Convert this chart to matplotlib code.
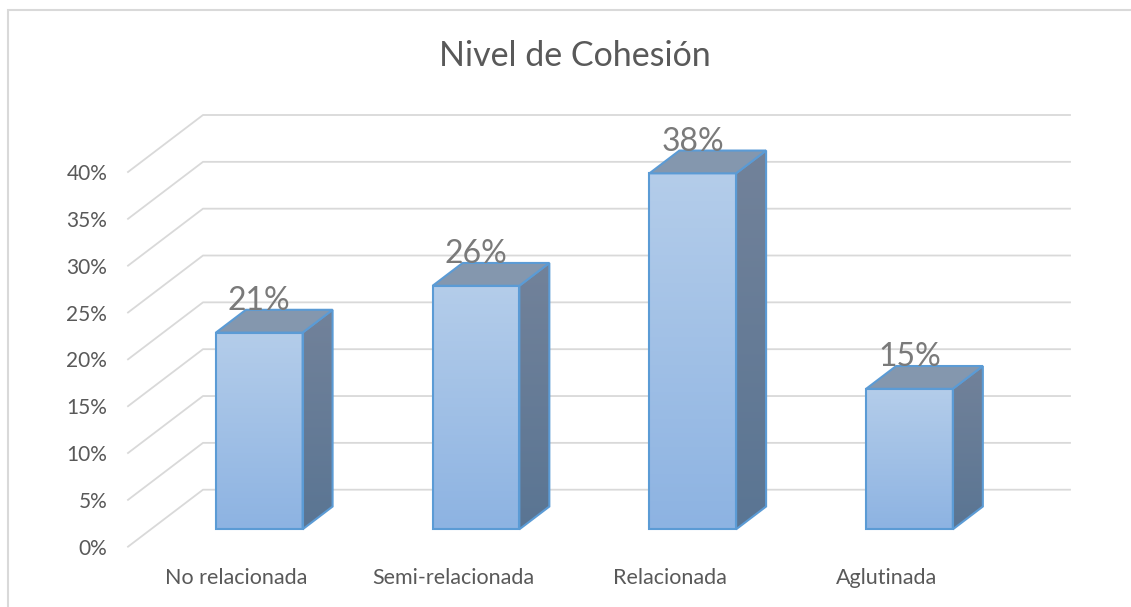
import numpy as np
import matplotlib.pyplot as plt
from matplotlib.patches import Polygon, Rectangle
from matplotlib.colors import LinearSegmentedColormap

categories = ["No relacionada", "Semi-relacionada", "Relacionada", "Aglutinada"]
values = [21, 26, 38, 15]
yticks = [0, 5, 10, 15, 20, 25, 30, 35, 40]
ytick_labels = ["0%", "5%", "10%", "15%", "20%", "25%", "30%", "35%", "40%"]

plt.rcParams["font.family"] = ["Lato", "DejaVu Sans"]

# oblique projection of the 3d box (in data units)
DX, DY = 0.346, 6.085      # full depth of the floor
d0, dd = 0.305, 0.40       # bar front position / bar depth (fraction of DX, DY)
bw = 0.4
ytop = 48                  # room above 40% for the back wall

front_cm = LinearSegmentedColormap.from_list("front", ["#8db3e2", "#b4cdea"])
side_cm = LinearSegmentedColormap.from_list("side", ["#5a7593", "#72829a"])
edge = "#5b9bd5"

px = 374.7 / 40            # pixels per percent
fig = plt.figure(figsize=(11.31, 6.07), dpi=100)
ax = fig.add_axes([128 / 1131, 60.3 / 607, 867 / 1131, ytop * px / 607])

# walls / gridlines
for t in yticks:
    ax.plot([0, DX, 4 + DX], [t, t + DY, t + DY], color="#d9d9d9", lw=1.3,
            clip_on=False, zorder=0)

grad = np.linspace(0, 1, 256).reshape(-1, 1)
for i, v in enumerate(values):
    x0 = i + 0.5 - bw / 2 + d0 * DX
    y0 = d0 * DY
    xr = x0 + bw
    ox, oy = dd * DX, dd * DY

    # front face
    ax.imshow(grad, extent=[x0, xr, y0, y0 + v], origin="lower", aspect="auto",
              cmap=front_cm, zorder=2)
    ax.bar(x0 + bw / 2, v, bottom=y0, width=bw, fill=False, edgecolor=edge,
           lw=1.5, zorder=3)

    # side face
    side = Polygon([(xr, y0), (xr + ox, y0 + oy), (xr + ox, y0 + v + oy), (xr, y0 + v)],
                   closed=True, transform=ax.transData)
    im = ax.imshow(grad, extent=[xr, xr + ox, y0, y0 + v + oy], origin="lower",
                   aspect="auto", cmap=side_cm, zorder=2)
    im.set_clip_path(side)
    ax.add_patch(Polygon(side.get_xy(), closed=True, fill=False, edgecolor=edge,
                         lw=1.5, zorder=3))

    # top face
    ax.add_patch(Polygon([(x0, y0 + v), (x0 + ox, y0 + v + oy), (xr + ox, y0 + v + oy),
                          (xr, y0 + v)], closed=True, facecolor="#8497ae",
                         edgecolor=edge, lw=1.5, zorder=3))

    ax.text(x0 + bw / 2, y0 + v + oy, f"{v}%", ha="center", va="baseline",
            fontsize=23, color="#7a7a7a", zorder=4)

ax.set_xlim(0, 4)
ax.set_ylim(0, ytop)
ax.set_xticks(np.arange(4) + 0.5, categories)
ax.set_yticks(yticks, ytick_labels)
ax.tick_params(axis="both", length=0, labelsize=15, labelcolor="#595959")
ax.tick_params(axis="x", labelsize=15.5, pad=15.5)
ax.tick_params(axis="y", pad=15)
for s in ax.spines.values():
    s.set_visible(False)
ax.set_facecolor("none")

fig.text(575 / 1131, 1 - 56 / 607, "Nivel de Cohesión", ha="center", va="center",
         fontsize=24.5, color="#595959")

fig.add_artist(Rectangle((8 / 1131, -0.1), 1.2, 1 - 10 / 607 + 0.1,
                         transform=fig.transFigure, fill=False,
                         edgecolor="#d9d9d9", lw=1.5))

fig.savefig("out.png", dpi=100)
